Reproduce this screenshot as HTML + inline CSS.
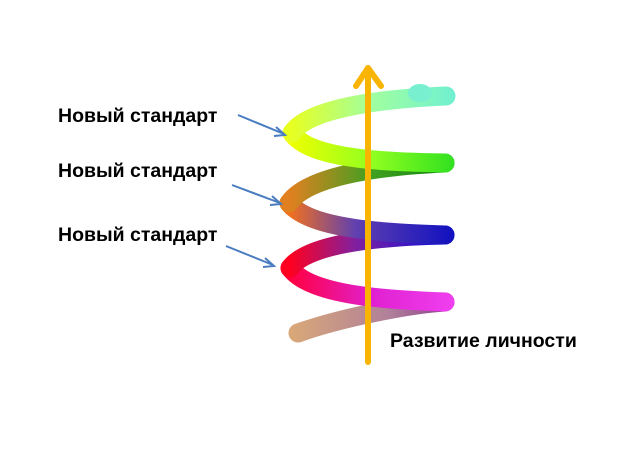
<!DOCTYPE html>
<html><head><meta charset="utf-8"><style>
body{margin:0;background:#fff;width:621px;height:466px;overflow:hidden}
svg{display:block}
text{font-family:"Liberation Sans",sans-serif;font-weight:bold;font-size:19.5px;fill:#000}
</style></head><body>
<svg width="621" height="466" viewBox="0 0 621 466">
<defs>
<linearGradient id="g0" gradientUnits="userSpaceOnUse" x1="290" y1="0" x2="455" y2="0"><stop offset="0" stop-color="#d9a878"/><stop offset="0.6" stop-color="#b0809a"/><stop offset="1" stop-color="#8a3a8a"/></linearGradient>
<linearGradient id="g1" gradientUnits="userSpaceOnUse" x1="290" y1="0" x2="455" y2="0"><stop offset="0" stop-color="#ff0040"/><stop offset="0.5" stop-color="#e020d0"/><stop offset="1" stop-color="#f040f0"/></linearGradient>
<linearGradient id="g2" gradientUnits="userSpaceOnUse" x1="290" y1="0" x2="455" y2="0"><stop offset="0" stop-color="#ff0020"/><stop offset="0.4" stop-color="#8020a0"/><stop offset="1" stop-color="#0010e0"/></linearGradient>
<linearGradient id="g3" gradientUnits="userSpaceOnUse" x1="290" y1="0" x2="455" y2="0"><stop offset="0" stop-color="#f07020"/><stop offset="0.4" stop-color="#6040b0"/><stop offset="1" stop-color="#1010c0"/></linearGradient>
<linearGradient id="g4" gradientUnits="userSpaceOnUse" x1="290" y1="0" x2="455" y2="0"><stop offset="0" stop-color="#e08020"/><stop offset="0.5" stop-color="#40a020"/><stop offset="1" stop-color="#108010"/></linearGradient>
<linearGradient id="g5" gradientUnits="userSpaceOnUse" x1="290" y1="0" x2="455" y2="0"><stop offset="0" stop-color="#f0ff00"/><stop offset="0.5" stop-color="#90ff20"/><stop offset="1" stop-color="#30e020"/></linearGradient>
<linearGradient id="g6" gradientUnits="userSpaceOnUse" x1="290" y1="0" x2="455" y2="0"><stop offset="0" stop-color="#e8ff20"/><stop offset="0.5" stop-color="#a0ffa0"/><stop offset="1" stop-color="#70f0d0"/></linearGradient>
</defs>
<g fill="none" stroke-width="19" stroke-linecap="round">
<path d="M298 333 C340 318 410 304 445 302" stroke="url(#g0)"/>
<path d="M445 302 C390 300 310 296 290 268" stroke="url(#g1)"/>
<path d="M290 268 C310 240 400 236 445 235" stroke="url(#g2)"/>
<path d="M445 235 C390 233 310 230 289 203" stroke="url(#g3)"/>
<path d="M289 203 C310 172 400 165 445 163" stroke="url(#g4)"/>
<path d="M445 163 C390 162 310 160 292 133" stroke="url(#g5)"/>
<path d="M292 133 C310 105 400 98 446 96" stroke="url(#g6)"/>
</g>
<ellipse cx="420" cy="93" rx="12" ry="9" fill="#78f0d0"/>
<g stroke="#f8b400" stroke-width="6" fill="none" stroke-linecap="round" stroke-linejoin="round">
<line x1="368" y1="362" x2="368" y2="68"/>
<polyline points="356,86 368,68 381,86"/>
</g>
<g stroke="#4a7cc0" stroke-width="2" fill="none">
<line x1="238" y1="115" x2="284" y2="134"/><polyline points="276,127 285,135 274,136"/>
<line x1="232" y1="185" x2="280" y2="203"/><polyline points="272,196 281,204 270,205"/>
<line x1="226" y1="246" x2="273" y2="265"/><polyline points="265,258 274,266 263,267"/>
</g>
<text x="58" y="122">Новый стандарт</text>
<text x="58" y="177">Новый стандарт</text>
<text x="58" y="241">Новый стандарт</text>
<text x="390" y="347">Развитие личности</text>
</svg>
</body></html>
